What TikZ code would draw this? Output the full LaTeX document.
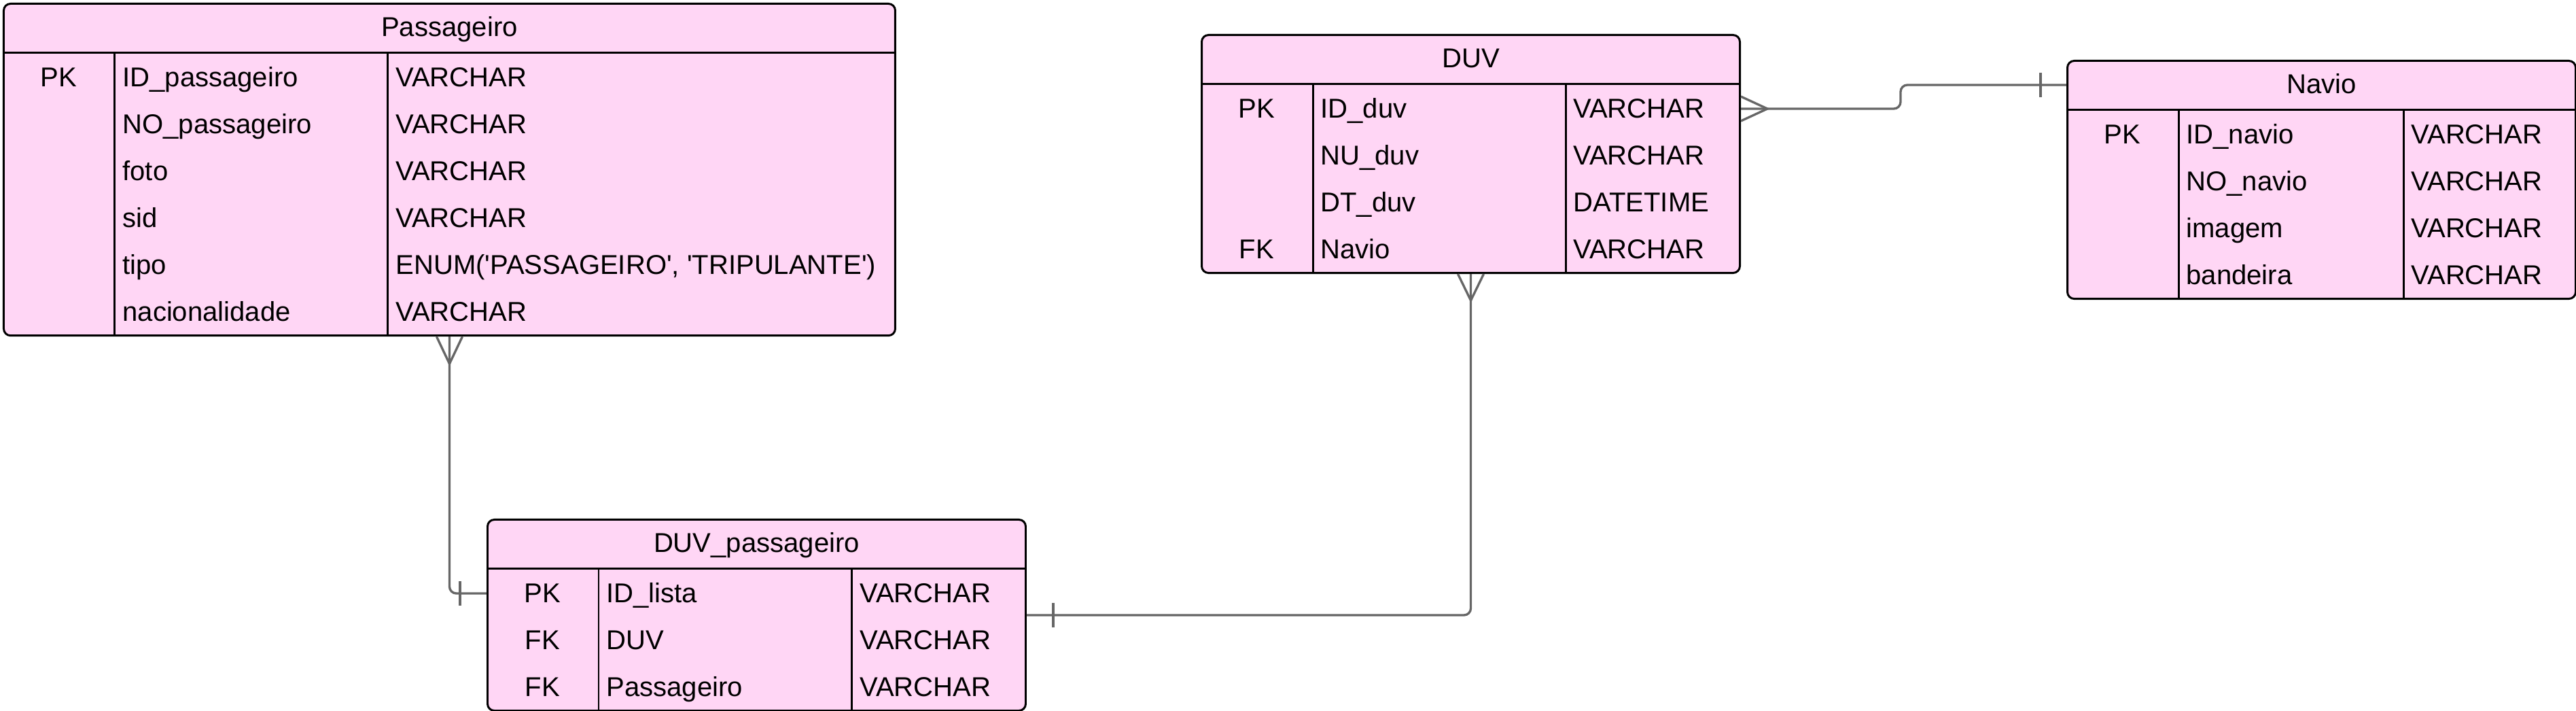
\documentclass[tikz,border=0pt]{standalone}
\usepackage{fontspec}
\setmainfont{Liberation Sans}
\usepackage{array}
\usepackage{xcolor}
\definecolor{erpink}{RGB}{255,214,245}
\definecolor{relgray}{RGB}{102,102,102}
\newcolumntype{K}{>{\centering\arraybackslash}p{1.42cm}}
\setlength{\arrayrulewidth}{0.85pt}
\setlength{\tabcolsep}{0.1cm}

\begin{document}
\begin{tikzpicture}[
  tbl/.style={draw,line width=0.85pt,rounded corners=0.1cm,fill=erpink,
              inner sep=0pt,anchor=north west,
              font=\fontsize{11.4pt}{19.65pt}\selectfont},
  rel/.style={draw=relgray,line width=0.95pt,rounded corners=0.1cm},
  endmark/.style={draw=relgray,line width=0.95pt}
]
  \useasboundingbox (0,0) rectangle (37.91,-10.46);

  % Passageiro
  \node[tbl] (pas) at (0.04,-0.04) {%
    \begin{tabular}{K|p{3.79cm}|p{7.25cm}}
      \multicolumn{3}{c}{\rule[-6.4pt]{0pt}{14.9pt}Passageiro}\\ \hline
      PK & ID\_passageiro & VARCHAR\\
         & NO\_passageiro & VARCHAR\\
         & foto & VARCHAR\\
         & sid & VARCHAR\\
         & tipo & ENUM(\textquotesingle PASSAGEIRO\textquotesingle, \textquotesingle TRIPULANTE\textquotesingle)\\
         & nacionalidade & VARCHAR
    \end{tabular}};

  % DUV
  \node[tbl] (duv) at (17.67,-0.50) {%
    \begin{tabular}{K|p{3.49cm}|p{2.35cm}}
      \multicolumn{3}{c}{\rule[-6.4pt]{0pt}{14.9pt}DUV}\\ \hline
      PK & ID\_duv & VARCHAR\\
         & NU\_duv & VARCHAR\\
         & DT\_duv & DATETIME\\
      FK & Navio & VARCHAR
    \end{tabular}};

  % Navio
  \node[tbl] (nav) at (30.41,-0.88) {%
    \begin{tabular}{K|p{3.08cm}|p{2.32cm}}
      \multicolumn{3}{c}{\rule[-6.4pt]{0pt}{14.9pt}Navio}\\ \hline
      PK & ID\_navio & VARCHAR\\
         & NO\_navio & VARCHAR\\
         & imagem & VARCHAR\\
         & bandeira & VARCHAR
    \end{tabular}};

  % DUV_passageiro
  \node[tbl] (dp) at (7.16,-7.63) {%
    \begin{tabular}{K|p{3.50cm}|p{2.34cm}}
      \multicolumn{3}{c}{\rule[-6.4pt]{0pt}{14.9pt}DUV\_passageiro}\\ \hline
      PK & ID\_lista & VARCHAR\\
      FK & DUV & VARCHAR\\
      FK & Passageiro & VARCHAR
    \end{tabular}};

  % Ends of the relations
  \coordinate (dpid) at ([yshift=-1.10cm]dp.north west);
  \coordinate (duvid) at ([yshift=-1.10cm]duv.north east);
  \coordinate (navhd) at ([yshift=-0.37cm]nav.north west);

  % Relations
  \draw[rel] (pas.south) |- (dpid);
  \draw[rel] (duv.south) |- (dp.east);
  \draw[rel] (duvid) -- ++(2.35,0) |- (navhd);

  % Crow's feet (many)
  \draw[endmark] ([xshift=-0.19cm]pas.south) -- ([yshift=-0.40cm]pas.south)
                 -- ([xshift=0.19cm]pas.south);
  \draw[endmark] ([xshift=-0.19cm]duv.south) -- ([yshift=-0.39cm]duv.south)
                 -- ([xshift=0.19cm]duv.south);
  \draw[endmark] ([yshift=0.18cm]duvid) -- ([xshift=0.39cm]duvid)
                 -- ([yshift=-0.18cm]duvid);

  % Bars (one)
  \draw[endmark] ([shift={(-0.39,0.18)}]dpid) -- ([shift={(-0.39,-0.18)}]dpid);
  \draw[endmark] ([shift={(0.39,0.18)}]dp.east) -- ([shift={(0.39,-0.18)}]dp.east);
  \draw[endmark] ([shift={(-0.38,0.18)}]navhd) -- ([shift={(-0.38,-0.18)}]navhd);

\end{tikzpicture}
\end{document}
